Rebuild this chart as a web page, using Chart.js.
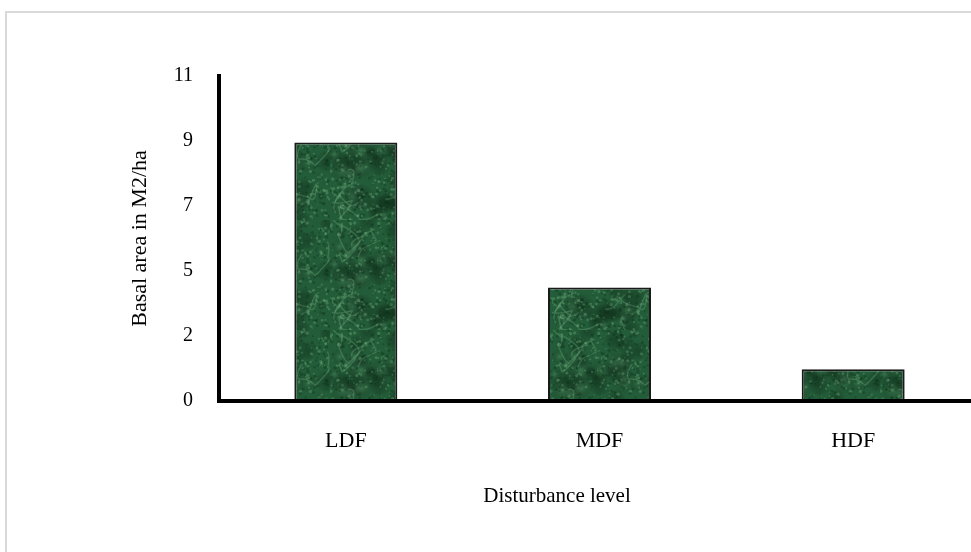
<!DOCTYPE html>
<html>
<head>
<meta charset="utf-8">
<script src="https://cdn.jsdelivr.net/npm/chart.js@4.4.0/dist/chart.umd.min.js"></script>
<style>
  html, body { margin: 0; padding: 0; background: #ffffff; overflow: hidden; width: 971px; height: 552px; }
  #frame { position: absolute; left: 5px; top: 11px; width: 1000px; height: 600px; border: 2px solid #d9d9d9; box-sizing: border-box; }
  #wrap { position: absolute; left: 0; top: 0; width: 990px; height: 552px; }
</style>
</head>
<body>
<div id="frame"></div>
<div id="wrap"><canvas id="c" width="990" height="552"></canvas></div>
<script>
// ---- data ----
const categories = ['LDF', 'MDF', 'HDF'];
const basalArea = [8.95, 3.93, 1.1];
const yTickLabels = ['0', '2', '5', '7', '9', '11'];
const yTitle = 'Basal area in M2/ha';
const xTitle = 'Disturbance level';

// ---- textured green fill (style only) ----
function makePattern() {
  const s = 110;
  const c = document.createElement('canvas');
  c.width = s; c.height = s;
  const g = c.getContext('2d');
  g.fillStyle = '#235c38';
  g.fillRect(0, 0, s, s);
  let seed = 12345;
  const rnd = () => { seed = (seed * 1103515245 + 12345) % 2147483648; return seed / 2147483648; };
  for (let i = 0; i < 60; i++) {
    const x = rnd() * s, y = rnd() * s, r = 4 + rnd() * 10;
    const grd = g.createRadialGradient(x, y, 0, x, y, r);
    const light = rnd() > 0.5;
    grd.addColorStop(0, light ? 'rgba(95,165,115,0.35)' : 'rgba(10,45,22,0.4)');
    grd.addColorStop(1, 'rgba(0,0,0,0)');
    g.fillStyle = grd;
    g.beginPath(); g.arc(x, y, r, 0, Math.PI * 2); g.fill();
  }
  for (let i = 0; i < 700; i++) {
    const x = rnd() * s, y = rnd() * s, r = 0.5 + rnd() * 1.2;
    g.fillStyle = rnd() > 0.5 ? 'rgba(125,190,140,0.3)' : 'rgba(8,40,20,0.3)';
    g.beginPath(); g.arc(x, y, r, 0, Math.PI * 2); g.fill();
  }
  g.strokeStyle = 'rgba(135,200,150,0.25)';
  g.lineWidth = 1.5;
  for (let i = 0; i < 10; i++) {
    g.beginPath();
    let x = rnd() * s, y = rnd() * s;
    g.moveTo(x, y);
    for (let k = 0; k < 4; k++) { const nx = x + (rnd() - 0.5) * 40, ny = y + (rnd() - 0.5) * 40; g.quadraticCurveTo(x + (rnd() - 0.5) * 20, y + (rnd() - 0.5) * 20, nx, ny); x = nx; y = ny; }
    g.stroke();
  }
  return g.createPattern(c, 'repeat');
}

const ctx = document.getElementById('c').getContext('2d');
const FONT = "'Liberation Serif', 'Times New Roman', serif";

const titlePlugin = {
  id: 'axisTitles',
  afterDraw(chart) {
    const g = chart.ctx;
    const a = chart.chartArea;
    g.save();
    g.fillStyle = '#000';
    g.textAlign = 'center';
    g.textBaseline = 'middle';
    g.font = '21px ' + FONT;
    g.fillText(xTitle, 557, 496);
    g.font = '22px ' + FONT;
    g.translate(140, (a.top + a.bottom) / 2);
    g.rotate(-Math.PI / 2);
    g.fillText(yTitle, 0, 0);
    g.restore();
  }
};

new Chart(ctx, {
  type: 'bar',
  data: {
    labels: categories,
    datasets: [{
      data: basalArea,
      backgroundColor: makePattern(),
      borderColor: '#1a1a1a',
      borderWidth: 2,
      borderSkipped: false,
      barPercentage: 0.406,
      categoryPercentage: 1.0
    }]
  },
  options: {
    responsive: false,
    animation: false,
    layout: { padding: { top: 76, right: 10, left: 0, bottom: 0 } },
    plugins: { legend: { display: false }, tooltip: { enabled: false } },
    scales: {
      x: {
        grid: { display: false, drawTicks: false },
        border: { display: true, color: '#000', width: 4, z: 1 },
        ticks: { color: '#000', font: { family: FONT, size: 22 }, padding: 27 },
        afterFit(scale) { scale.height = 151; }
      },
      y: {
        min: 0, max: 11.25,
        grid: { display: false, drawTicks: false },
        border: { display: true, color: '#000', width: 4, z: 1 },
        ticks: {
          stepSize: 2.25,
          color: '#000',
          font: { family: FONT, size: 20 },
          padding: 26,
          callback: (v, i) => yTickLabels[i]
        },
        afterFit(scale) { scale.width = 219; }
      }
    }
  },
  plugins: [titlePlugin]
});
</script>
</body>
</html>
